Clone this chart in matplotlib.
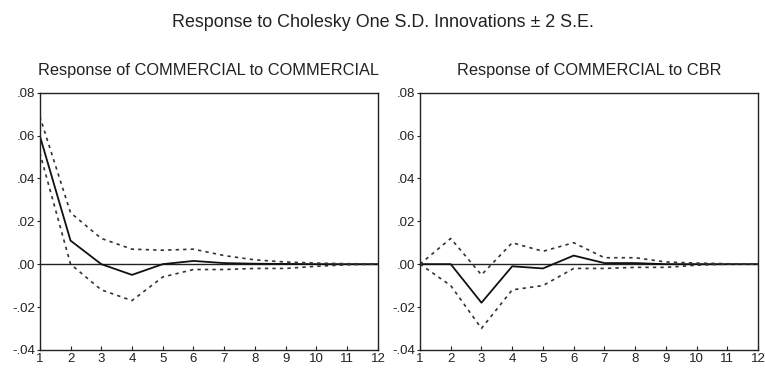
import matplotlib.pyplot as plt
from matplotlib.ticker import FuncFormatter

plt.rcParams['font.family'] = ['Liberation Sans', 'DejaVu Sans']

periods = list(range(1, 13))

# response of COMMERCIAL to COMMERCIAL
comm_resp = [0.060, 0.011, 0.000, -0.005, 0.000, 0.0015, 0.0005, 0.0002, 0.0001, 0.0, 0.0, 0.0]
comm_upper = [0.069, 0.024, 0.012, 0.007, 0.0065, 0.007, 0.004, 0.002, 0.001, 0.0005, 0.0002, 0.0001]
comm_lower = [0.052, 0.000, -0.012, -0.017, -0.006, -0.0025, -0.0025, -0.002, -0.002, -0.001, -0.0003, 0.0]

# response of COMMERCIAL to CBR
cbr_resp = [0.0, 0.0, -0.018, -0.001, -0.002, 0.004, 0.0005, 0.0005, 0.0, 0.0, 0.0, 0.0]
cbr_upper = [0.0, 0.012, -0.005, 0.010, 0.006, 0.010, 0.003, 0.003, 0.001, 0.0005, 0.0002, 0.0]
cbr_lower = [0.0, -0.010, -0.030, -0.012, -0.010, -0.002, -0.002, -0.0015, -0.0015, -0.0005, 0.0, 0.0]

panels = [
    ("Response of COMMERCIAL to COMMERCIAL", comm_resp, comm_upper, comm_lower),
    ("Response of COMMERCIAL to CBR", cbr_resp, cbr_upper, cbr_lower),
]

fig = plt.figure(figsize=(7.65, 3.71), dpi=100)
fig.text(0.5, 0.94, "Response to Cholesky One S.D. Innovations \u00b1 2 S.E.",
         ha='center', va='center', fontsize=12.9, color='#222222')


def fmt(v, pos):
    s = "%.2f" % v
    return s.replace("0.", ".", 1)


lefts = [0.052, 0.549]
for left, (title, resp, upper, lower) in zip(lefts, panels):
    ax = fig.add_axes([left, 0.057, 0.442, 0.693])
    ax.axhline(0, color='#222222', lw=1.0)
    ax.plot(periods, resp, color='#111111', lw=1.3)
    ax.plot(periods, upper, color='#333333', lw=1.2, ls=(0, (2, 2.5)))
    ax.plot(periods, lower, color='#333333', lw=1.2, ls=(0, (2, 2.5)))
    ax.set_xlim(1, 12)
    ax.set_ylim(-0.04, 0.08)
    ax.set_xticks(periods)
    ax.set_yticks([-0.04, -0.02, 0.0, 0.02, 0.04, 0.06, 0.08])
    ax.yaxis.set_major_formatter(FuncFormatter(fmt))
    ax.tick_params(axis='y', direction='out', length=2, labelsize=9.5, pad=1.5, colors='#222222')
    ax.tick_params(axis='x', direction='in', length=3, labelsize=9.5, pad=2, colors='#222222')
    for sp in ax.spines.values():
        sp.set_color('#222222')
        sp.set_linewidth(1.0)
    ax.set_title(title, fontsize=11.8, pad=13, color='#222222')

fig.savefig("out.png", dpi=100)
